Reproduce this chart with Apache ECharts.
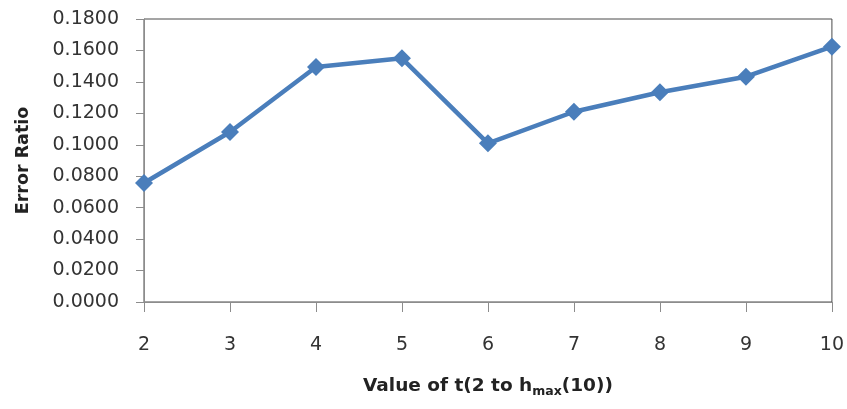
<!DOCTYPE html>
<html><head><meta charset="utf-8">
<script src="https://cdn.jsdelivr.net/npm/echarts@6/dist/echarts.min.js"></script>
<style>html,body{margin:0;padding:0;background:#fff}#c{width:847px;height:409px}</style>
</head><body><div id="c"></div>
<script>
var categories = ['2','3','4','5','6','7','8','9','10'];
var errorRatio = [0.0757, 0.1081, 0.1495, 0.1550, 0.1009, 0.1210, 0.1334, 0.1433, 0.1624];
var yTicks = {min: 0, max: 0.18, interval: 0.02};

var chart = echarts.init(document.getElementById('c'));
chart.setOption({
  animation: false,
  backgroundColor: '#fff',
  grid: {left: 144, right: 14, top: 19, bottom: 107, show: true, borderColor: '#4a4a4a', borderWidth: 1},
  xAxis: {
    type: 'category', data: categories, boundaryGap: false,
    axisLine: {lineStyle: {color: '#8c8c8c', width: 1}},
    axisTick: {show: true, alignWithLabel: true, length: 10, lineStyle: {color: '#8c8c8c'}},
    axisLabel: {color: '#333', fontFamily: 'DejaVu Sans', fontSize: 19, margin: 34},
    name: '{b|Value of t(2 to h}{s|max}{b|(10))}',
    nameLocation: 'middle', nameGap: 72,
    nameTextStyle: {rich: {
      b: {fontFamily: 'DejaVu Sans', fontWeight: 'bold', fontSize: 18.5, color: '#222'},
      s: {fontFamily: 'DejaVu Sans', fontWeight: 'bold', fontSize: 12.5, color: '#222', padding: [11, 0, 0, 0]}
    }}
  },
  yAxis: {
    type: 'value', min: yTicks.min, max: yTicks.max, interval: yTicks.interval,
    axisLine: {show: true, lineStyle: {color: '#8c8c8c', width: 1}},
    axisTick: {show: true, length: 8, lineStyle: {color: '#8c8c8c'}},
    splitLine: {show: false},
    axisLabel: {color: '#333', fontFamily: 'DejaVu Sans', fontSize: 19, margin: 25,
      formatter: function (v) { return v.toFixed(4); }},
    name: 'Error Ratio', nameLocation: 'middle', nameGap: 112,
    nameTextStyle: {fontFamily: 'DejaVu Sans', fontWeight: 'bold', fontSize: 17.5, color: '#222'}
  },
  series: [{
    type: 'line', data: errorRatio,
    symbol: 'diamond', symbolSize: 18,
    lineStyle: {color: '#4a7ebb', width: 4.5},
    itemStyle: {color: '#4a7ebb'}
  }]
});
</script></body></html>
